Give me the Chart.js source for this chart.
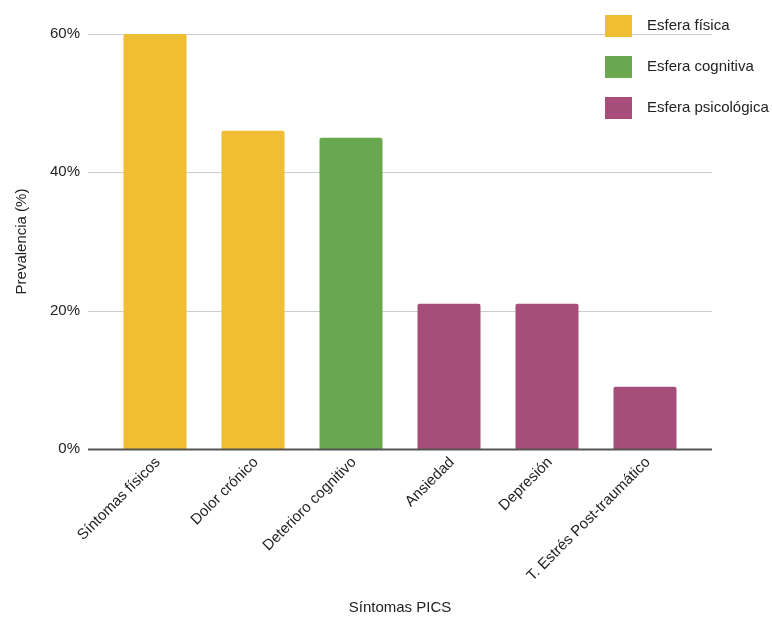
<!DOCTYPE html>
<html>
<head>
<meta charset="utf-8">
<script src="https://cdn.jsdelivr.net/npm/chart.js@4/dist/chart.umd.min.js"></script>
<style>
  html, body { margin: 0; padding: 0; background: #fff; }
  #wrap { width: 772px; height: 619px; }
</style>
</head>
<body>
<div id="wrap"><canvas id="chart"></canvas></div>
<script>
// Síntomas PICS y su prevalencia, agrupados por esfera
const categories = ['Síntomas físicos', 'Dolor crónico', 'Deterioro cognitivo', 'Ansiedad', 'Depresión', 'T. Estrés Post-traumático'];
const prevalence = [60, 46, 45, 21, 21, 9];
const sphereOf = [0, 0, 1, 2, 2, 2];
const sphereNames = ['Esfera física', 'Esfera cognitiva', 'Esfera psicológica'];
const sphereColors = ['#f0be32', '#6aa84f', '#a64d79'];
const yTicks = [0, 20, 40, 60];

const FONT = '"Liberation Sans", Arial, sans-serif';
const TEXT = '#222';

// Horizontal gridlines run a bit past the category band on both sides
const extendedGrid = {
    id: 'extendedGrid',
    beforeDatasetsDraw(chart) {
        const { ctx, chartArea, scales } = chart;
        ctx.save();
        ctx.strokeStyle = '#cccccc';
        ctx.lineWidth = 1;
        yTicks.forEach(v => {
            if (v === 0) return;
            const py = Math.round(scales.y.getPixelForValue(v));
            ctx.beginPath();
            ctx.moveTo(chartArea.left - 18, py + 0.5);
            ctx.lineTo(chartArea.right + 18, py + 0.5);
            ctx.stroke();
        });
        ctx.restore();
    },
    afterDatasetsDraw(chart) {
        const { ctx, chartArea, scales } = chart;
        const py = Math.round(scales.y.getPixelForValue(0));
        ctx.save();
        ctx.strokeStyle = '#555555';
        ctx.lineWidth = 2;
        ctx.beginPath();
        ctx.moveTo(chartArea.left - 18, py + 0.5);
        ctx.lineTo(chartArea.right + 18, py + 0.5);
        ctx.stroke();
        ctx.restore();
    }
};

// Category labels at 45°, drawn at the x scale's tick positions
// (done here so the overhang of the first label doesn't shrink the plot)
const slantedLabels = {
    id: 'slantedLabels',
    afterDraw(chart) {
        const { ctx, chartArea, scales } = chart;
        ctx.save();
        ctx.font = '15px ' + FONT;
        ctx.fillStyle = TEXT;
        ctx.textAlign = 'right';
        ctx.textBaseline = 'middle';
        categories.forEach((name, i) => {
            const px = scales.x.getPixelForTick(i);
            ctx.save();
            ctx.translate(px + 3, chartArea.bottom + 11);
            ctx.rotate(-Math.PI / 4);
            ctx.fillText(name, 0, 0);
            ctx.restore();
        });
        ctx.restore();
    }
};

// Legend of spheres, top right
const sphereLegend = {
    id: 'sphereLegend',
    afterDraw(chart) {
        const { ctx } = chart;
        ctx.save();
        ctx.font = '15px ' + FONT;
        ctx.textBaseline = 'middle';
        ctx.textAlign = 'left';
        sphereNames.forEach((name, i) => {
            const top = 15 + i * 41;
            ctx.fillStyle = sphereColors[i];
            ctx.fillRect(605, top, 27, 22);
            ctx.fillStyle = TEXT;
            ctx.fillText(name, 647, top + 11);
        });
        ctx.restore();
    }
};

new Chart(document.getElementById('chart'), {
    type: 'bar',
    data: {
        labels: categories,
        datasets: [{
            label: 'Prevalencia',
            data: prevalence,
            backgroundColor: sphereOf.map(s => sphereColors[s]),
            borderRadius: { topLeft: 2, topRight: 2 },
            borderSkipped: 'start',
            barPercentage: 1,
            categoryPercentage: 0.643
        }]
    },
    options: {
        responsive: true,
        maintainAspectRatio: false,
        animation: false,
        layout: { padding: { top: 34, right: 78, left: 0, bottom: 0 } },
        plugins: {
            legend: { display: false },
            tooltip: { enabled: false }
        },
        scales: {
            x: {
                grid: { display: false },
                border: { display: false },
                ticks: { display: false },
                afterFit(scale) {
                    scale.height = 170;
                },
                title: {
                    display: true,
                    text: 'Síntomas PICS',
                    color: TEXT,
                    font: { family: FONT, size: 15 },
                    padding: { top: 3, bottom: 2 }
                }
            },
            y: {
                min: 0,
                max: 60,
                grid: { display: false },
                border: { display: false },
                afterBuildTicks(scale) {
                    scale.ticks = yTicks.map(v => ({ value: v }));
                },
                afterFit(scale) {
                    scale.width = 106;
                },
                ticks: {
                    color: TEXT,
                    font: { family: FONT, size: 15 },
                    padding: 18,
                    callback: v => v + '%'
                },
                title: {
                    display: true,
                    text: 'Prevalencia (%)',
                    color: TEXT,
                    font: { family: FONT, size: 15 },
                    padding: { top: 13, bottom: 16 }
                }
            }
        }
    },
    plugins: [extendedGrid, slantedLabels, sphereLegend]
});
</script>
</body>
</html>
